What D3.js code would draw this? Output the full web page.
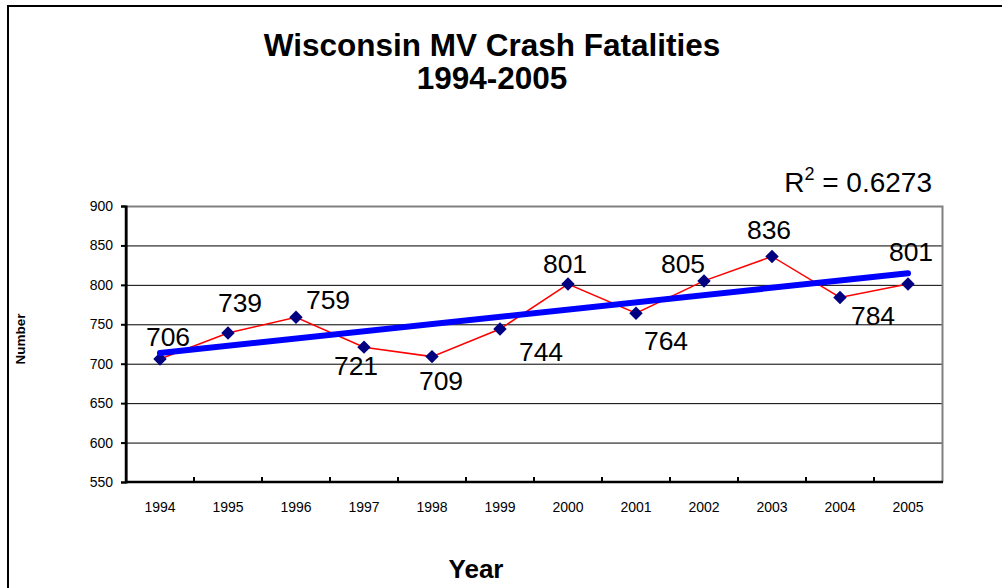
<!DOCTYPE html>
<html><head><meta charset="utf-8">
<script src="https://cdn.jsdelivr.net/npm/d3@7"></script>
<style>html,body{margin:0;padding:0;background:#fff;}svg{display:block;font-family:Arial,"Liberation Sans",sans-serif;}</style>
</head><body>
<svg id="chart" width="1002" height="588"></svg>
<script>
const years = ["1994","1995","1996","1997","1998","1999","2000","2001","2002","2003","2004","2005"];
const fatalities = [706,739,759,721,709,744,801,764,805,836,784,801];
const yTicks = [550,600,650,700,750,800,850,900];
const titleLines = ["Wisconsin MV Crash Fatalities","1994-2005"];
const rSquaredText = "0.6273";
// label placement (dx, dy of baseline relative to marker)
const labelOffsets = [[8,-13],[12,-21],[32,-8],[-8,28],[9,33],[41,32],[-3,-11],[30,37],[-21,-8],[-3,-17],[33,28],[3,-23]];

const svg = d3.select("#chart");
const m = {left:126, top:206, right:942, bottom:482};
const x = d3.scaleBand().domain(years).range([m.left, m.right]).padding(0);
const y = d3.scaleLinear().domain([550,900]).range([m.bottom, m.top]);

// outer border
svg.append("rect").attr("x",8).attr("y",6).attr("width",1100).attr("height",1000)
  .attr("fill","none").attr("stroke","#000").attr("stroke-width",2);

// title
svg.append("text").attr("x",492).attr("y",56).attr("text-anchor","middle")
  .attr("font-size",31.5).attr("font-weight","bold").text(titleLines[0]);
svg.append("text").attr("x",492).attr("y",89).attr("text-anchor","middle")
  .attr("font-size",31.5).attr("font-weight","bold").text(titleLines[1]);

// gridlines
svg.append("g").selectAll("line").data(yTicks.filter(t=>t>550 && t<900)).join("line")
  .attr("x1",m.left).attr("x2",m.right).attr("y1",d=>y(d)+0.5).attr("y2",d=>y(d)+0.5)
  .attr("stroke","#000").attr("stroke-width",1);

// plot border top/right grey
svg.append("path").attr("d",`M${m.left},${m.top+0.5}H${m.right+0.5}V${m.bottom}`)
  .attr("fill","none").attr("stroke","#808080").attr("stroke-width",2);

// y axis
const yAxis = d3.axisLeft(y).tickValues(yTicks).tickSize(5).tickPadding(8);
const gy = svg.append("g").attr("transform",`translate(${m.left},0)`).call(yAxis);
gy.select(".domain").attr("stroke","#000").attr("stroke-width",2);
gy.selectAll(".tick line").attr("stroke","#000").attr("stroke-width",2);
gy.selectAll(".tick text").attr("font-size",14).attr("font-family","Arial, 'Liberation Sans', sans-serif").attr("fill","#000");

// x axis labels
const xAxis = d3.axisBottom(x).tickSize(0).tickPadding(20);
const gx = svg.append("g").attr("transform",`translate(0,${m.bottom})`).call(xAxis);
gx.select(".domain").remove();
gx.selectAll(".tick text").attr("font-size",14).attr("font-family","Arial, 'Liberation Sans', sans-serif").attr("fill","#000");
// x tick marks at category boundaries (inside)
svg.append("g").selectAll("line").data(years.slice(1)).join("line")
  .attr("x1",d=>x(d)).attr("x2",d=>x(d)).attr("y1",m.bottom).attr("y2",m.bottom-5)
  .attr("stroke","#000").attr("stroke-width",2);
svg.append("line").attr("x1",m.left-1).attr("x2",m.right+1).attr("y1",m.bottom).attr("y2",m.bottom)
  .attr("stroke","#000").attr("stroke-width",2.5);
svg.append("line").attr("x1",m.left).attr("x2",m.left).attr("y1",m.top).attr("y2",m.bottom)
  .attr("stroke","#000").attr("stroke-width",2.5);

const cx = d => x(d) + x.bandwidth()/2;

// data line
const line = d3.line().x((d,i)=>cx(years[i])).y(d=>y(d));
svg.append("path").datum(fatalities).attr("d",line).attr("fill","none")
  .attr("stroke","#ff0000").attr("stroke-width",1.5);

// markers
svg.append("g").selectAll("path").data(fatalities).join("path")
  .attr("d",d3.symbol().type(d3.symbolDiamond2).size(115))
  .attr("transform",(d,i)=>`translate(${cx(years[i])},${y(d)})`)
  .attr("fill","#000080");

// linear trend
const n = fatalities.length;
const xs = d3.range(n);
const mx = d3.mean(xs), my = d3.mean(fatalities);
const slope = d3.sum(xs.map((v,i)=>(v-mx)*(fatalities[i]-my))) / d3.sum(xs.map(v=>(v-mx)*(v-mx)));
const icpt = my - slope*mx;
svg.append("line")
  .attr("x1",cx(years[0])).attr("y1",y(icpt))
  .attr("x2",cx(years[n-1])).attr("y2",y(icpt+slope*(n-1)))
  .attr("stroke","#0000ff").attr("stroke-width",6).attr("stroke-linecap","round");

// data labels
svg.append("g").selectAll("text").data(fatalities).join("text")
  .attr("x",(d,i)=>cx(years[i])+labelOffsets[i][0])
  .attr("y",(d,i)=>y(d)+labelOffsets[i][1])
  .attr("text-anchor","middle").attr("font-size",26.5).attr("fill","#000").text(d=>d);

// R^2
const rt = svg.append("text").attr("x",932).attr("y",192).attr("text-anchor","end").attr("font-size",28);
rt.append("tspan").text("R");
rt.append("tspan").attr("font-size",18).attr("dy",-12).text("2");
rt.append("tspan").attr("dy",12).text(" = " + rSquaredText);

// axis titles
svg.append("text").attr("transform","translate(25,339) rotate(-90)").attr("text-anchor","middle")
  .attr("font-size",13.5).attr("font-weight","bold").text("Number");
svg.append("text").attr("x",476).attr("y",578).attr("text-anchor","middle")
  .attr("font-size",26).attr("font-weight","bold").text("Year");
</script>
</body></html>
